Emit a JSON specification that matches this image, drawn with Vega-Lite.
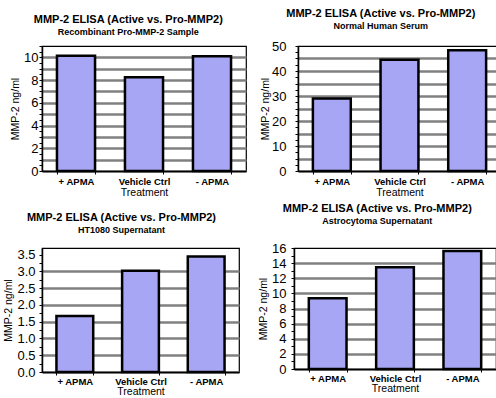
{
  "$schema": "https://vega.github.io/schema/vega-lite/v6.json",
  "background": "white",
  "padding": {"left": 3, "top": 7, "right": 0, "bottom": 0},
  "config": {
    "font": "Liberation Sans",
    "view": {"stroke": "black", "strokeWidth": 1.2},
    "title": {"fontSize": 11, "fontWeight": "bold", "subtitleFontSize": 9, "subtitleFontWeight": "bold", "subtitlePadding": 0, "offset": 9, "color": "black", "subtitleColor": "black", "anchor": "middle", "frame": "bounds"},
    "axis": {"titleFontWeight": "normal", "titleColor": "black", "labelColor": "black", "domainColor": "black", "tickColor": "black"},
    "bar": {"fill": "#A6A6F4", "stroke": "black", "strokeWidth": 2.5}
  },
  "spacing": 3,
  "vconcat": [
    {
      "spacing": 12,
      "hconcat": [
        {
          "width": 204, "height": 125,
          "title": {"text": "MMP-2 ELISA (Active vs. Pro-MMP2)", "subtitle": "Recombinant Pro-MMP-2 Sample\u00a0\u00a0\u00a0\u00a0\u00a0\u00a0"},
          "data": {"values": [
            {"Treatment": "+ APMA", "value": 10.15},
            {"Treatment": "Vehicle Ctrl", "value": 8.25},
            {"Treatment": "- APMA", "value": 10.1}
          ]},
          "mark": {"type": "bar"},
          "encoding": {
            "x": {"field": "Treatment", "type": "nominal", "sort": null,
              "scale": {"paddingInner": 0.44, "paddingOuter": 0.22},
              "axis": {"labelAngle": 0, "labelFontSize": 9.5, "labelFontWeight": "bold", "titleFontSize": 10.5, "titlePadding": 2, "tickBand": "extent", "tickSize": 3, "labelPadding": 2, "domainWidth": 1.5}},
            "y": {"field": "value", "type": "quantitative",
              "title": "MMP-2 ng/ml",
              "scale": {"domain": [0, 11], "nice": false},
              "axis": {"values": [0,0.5,1,1.5,2,2.5,3,3.5,4,4.5,5,5.5,6,6.5,7,7.5,8,8.5,9,9.5,10,10.5,11],
                "labelExpr": "datum.value % 1 === 0 ? format(datum.value, 'd') : ''",
                "labelFontSize": 13, "titleFontSize": 10.5, "titlePadding": 3, "labelPadding": 1,
                "tickSize": 3, "domainWidth": 1.5,
                "grid": true, "gridColor": "#808080", "gridWidth": 2.5,
                "gridOpacity": {"condition": {"test": "datum.value % 1 === 0 && datum.value < 11", "value": 1}, "value": 0}}}
          }
        },
        {
          "width": 203, "height": 125,
          "title": {"text": "MMP-2 ELISA (Active vs. Pro-MMP2)", "subtitle": "Normal Human Serum\u00a0\u00a0\u00a0\u00a0\u00a0\u00a0\u00a0\u00a0\u00a0\u00a0"},
          "data": {"values": [
            {"Treatment": "+ APMA", "value": 29.0},
            {"Treatment": "Vehicle Ctrl", "value": 44.5},
            {"Treatment": "- APMA", "value": 48.3}
          ]},
          "mark": {"type": "bar"},
          "encoding": {
            "x": {"field": "Treatment", "type": "nominal", "sort": null,
              "scale": {"paddingInner": 0.44, "paddingOuter": 0.22},
              "axis": {"labelAngle": 0, "labelFontSize": 9.5, "labelFontWeight": "bold", "titleFontSize": 10.5, "titlePadding": 2, "tickBand": "extent", "tickSize": 3, "labelPadding": 2, "domainWidth": 1.5}},
            "y": {"field": "value", "type": "quantitative",
              "title": "MMP-2 ng/ml",
              "scale": {"domain": [0, 50], "nice": false},
              "axis": {"values": [0,2.5,5,7.5,10,12.5,15,17.5,20,22.5,25,27.5,30,32.5,35,37.5,40,42.5,45,47.5,50],
                "labelExpr": "datum.value % 5 === 0 ? format(datum.value, 'd') : ''",
                "labelFontSize": 13, "titleFontSize": 10.5, "titlePadding": 1, "labelPadding": 9,
                "tickSize": 3, "domainWidth": 1.5,
                "grid": true, "gridColor": "#808080", "gridWidth": 2.5,
                "gridOpacity": {"condition": {"test": "datum.value % 5 === 0 && datum.value < 50", "value": 1}, "value": 0}}}
          }
        }
      ]
    },
    {
      "spacing": 17,
      "hconcat": [
        {
          "width": 197, "height": 124,
          "title": {"text": "MMP-2 ELISA (Active vs. Pro-MMP2)", "subtitle": "HT1080 Supernatant\u00a0\u00a0\u00a0\u00a0\u00a0\u00a0", "offset": 13},
          "data": {"values": [
            {"Treatment": "+ APMA", "value": 1.67},
            {"Treatment": "Vehicle Ctrl", "value": 3.02},
            {"Treatment": "- APMA", "value": 3.45}
          ]},
          "mark": {"type": "bar"},
          "encoding": {
            "x": {"field": "Treatment", "type": "nominal", "sort": null,
              "scale": {"paddingInner": 0.44, "paddingOuter": 0.22},
              "axis": {"labelAngle": 0, "labelFontSize": 9.5, "labelFontWeight": "bold", "titleFontSize": 10.5, "titlePadding": 1, "tickBand": "extent", "tickSize": 3, "labelPadding": 1, "domainWidth": 1.5}},
            "y": {"field": "value", "type": "quantitative",
              "title": "MMP-2 ng/ml",
              "scale": {"domain": [0, 3.7], "nice": false},
              "axis": {"values": [0,0.25,0.5,0.75,1,1.25,1.5,1.75,2,2.25,2.5,2.75,3,3.25,3.5],
                "labelExpr": "datum.value % 0.5 === 0 ? format(datum.value, '.1f') : ''",
                "labelFontSize": 13, "titleFontSize": 10.5, "titlePadding": 3, "labelPadding": 4,
                "tickSize": 3, "domainWidth": 1.5,
                "grid": true, "gridColor": "#808080", "gridWidth": 2.5,
                "gridOpacity": {"condition": {"test": "datum.value % 0.5 === 0 && datum.value < 3.5", "value": 1}, "value": 0}}}
          }
        },
        {
          "width": 202, "height": 121,
          "title": {"text": "MMP-2 ELISA (Active vs. Pro-MMP2)", "subtitle": "Astrocytoma Supernatant\u00a0\u00a0\u00a0\u00a0\u00a0", "offset": 16},
          "data": {"values": [
            {"Treatment": "+ APMA", "value": 9.35},
            {"Treatment": "Vehicle Ctrl", "value": 13.45},
            {"Treatment": "- APMA", "value": 15.6}
          ]},
          "mark": {"type": "bar"},
          "encoding": {
            "x": {"field": "Treatment", "type": "nominal", "sort": null,
              "scale": {"paddingInner": 0.44, "paddingOuter": 0.22},
              "axis": {"labelAngle": 0, "labelFontSize": 9.5, "labelFontWeight": "bold", "titleFontSize": 10.5, "titlePadding": 1, "tickBand": "extent", "tickSize": 3, "labelPadding": 1, "domainWidth": 1.5}},
            "y": {"field": "value", "type": "quantitative",
              "title": "MMP-2 ng/ml",
              "scale": {"domain": [0, 16], "nice": false},
              "axis": {"values": [0,1,2,3,4,5,6,7,8,9,10,11,12,13,14,15,16],
                "labelExpr": "datum.value % 2 === 0 ? format(datum.value, 'd') : ''",
                "labelFontSize": 13, "titleFontSize": 10.5, "titlePadding": 3, "labelPadding": 5,
                "tickSize": 3, "domainWidth": 1.5,
                "grid": true, "gridColor": "#808080", "gridWidth": 2.5,
                "gridOpacity": {"condition": {"test": "datum.value % 2 === 0 && datum.value < 16", "value": 1}, "value": 0}}}
          }
        }
      ]
    }
  ]
}
